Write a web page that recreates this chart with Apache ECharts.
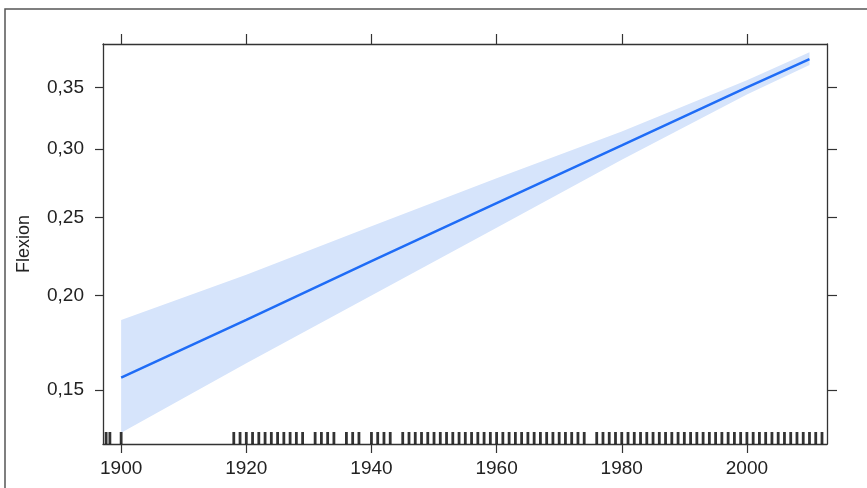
<!DOCTYPE html>
<html><head><meta charset="utf-8">
<script src="https://cdn.jsdelivr.net/npm/echarts@6/dist/echarts.min.js"></script>
<style>html,body{margin:0;padding:0;background:#fff}#c{width:867px;height:488px}</style>
</head><body><div id="c"></div>
<script>
// Effect of year on Flexion (probabilities, plotted on a logit scale)
const years  = [1900, 1920, 1940, 1960, 1980, 2000, 2010];
const fitP   = [0.156, 0.186, 0.221, 0.260, 0.303, 0.350, 0.374];
const lowerP = [0.131, 0.163, 0.200, 0.243, 0.292, 0.344, 0.369];
const upperP = [0.186, 0.2125, 0.244, 0.278, 0.314, 0.356, 0.380];
const rugYears = [1897.6, 1898.2, 1900,
  1918,1919,1920,1921,1922,1923,1924,1925,1926,1927,1928,1929,
  1931,1932,1933,1934,1936,1937,1938,1940,1941,1942,1943,
  1945,1946,1947,1948,1949,1950,1951,1952,1953,1954,1955,1956,1957,1958,1959,
  1960,1961,1962,1963,1964,1965,1966,1967,1968,1969,1970,1971,1972,1973,1974,
  1976,1977,1978,1979,1980,1981,1982,1983,1984,1985,1986,1987,1988,1989,
  1990,1991,1992,1993,1994,1995,1996,1997,1998,1999,2000,2001,2002,2003,2004,
  2005,2006,2007,2008,2009,2010,2011,2012];
const xTicks = [1900, 1920, 1940, 1960, 1980, 2000];
const yTicksP = [0.15, 0.20, 0.25, 0.30, 0.35];
const xRange = [1897.1, 2012.8];
const yRangeP = [0.1264, 0.3871];
const yTitle = 'Flexion';

const logit = p => Math.log(p / (1 - p));
const inv = v => 1 / (1 + Math.exp(-v));
const fmt = v => inv(v).toFixed(2).replace('.', ',');

const yMin = logit(yRangeP[0]), yMax = logit(yRangeP[1]);
const yTicks = yTicksP.map(logit);
const font = 'Liberation Sans, Arial, Helvetica, sans-serif';
const lineCol = '#333';

const chart = echarts.init(document.getElementById('c'), null, {renderer: 'canvas'});
chart.setOption({
  animation: false,
  backgroundColor: '#fff',
  grid: {left: 103, top: 44, right: 40, bottom: 44, containLabel: false},
  graphic: [{
    type: 'rect', shape: {x: 5, y: 9, width: 880, height: 500},
    style: {fill: 'none', stroke: '#555', lineWidth: 1.5}, z: 100
  }],
  xAxis: [{
    type: 'value', position: 'bottom', min: xRange[0], max: xRange[1],
    axisLine: {show: true, lineStyle: {color: lineCol, width: 1.3}},
    axisTick: {show: true, length: 9, customValues: xTicks, lineStyle: {color: lineCol, width: 1.2}},
    axisLabel: {show: true, customValues: xTicks, margin: 15, color: '#222', fontSize: 19, fontFamily: font,
      formatter: v => String(Math.round(v))},
    splitLine: {show: false}
  }, {
    type: 'value', position: 'top', min: xRange[0], max: xRange[1],
    axisLine: {show: true, lineStyle: {color: lineCol, width: 1.3}},
    axisTick: {show: true, length: 10, customValues: xTicks, lineStyle: {color: lineCol, width: 1.2}},
    axisLabel: {show: false}, splitLine: {show: false}
  }],
  yAxis: [{
    type: 'value', position: 'left', min: yMin, max: yMax,
    name: yTitle, nameLocation: 'middle', nameGap: 70, nameRotate: 90,
    nameTextStyle: {color: '#222', fontSize: 18, fontFamily: font},
    axisLine: {show: true, lineStyle: {color: lineCol, width: 1.3}},
    axisTick: {show: true, length: 8, customValues: yTicks, lineStyle: {color: lineCol, width: 1.2}},
    axisLabel: {show: true, customValues: yTicks, margin: 19, color: '#222', fontSize: 19, fontFamily: font,
      formatter: fmt},
    splitLine: {show: false}
  }, {
    type: 'value', position: 'right', min: yMin, max: yMax,
    axisLine: {show: true, lineStyle: {color: lineCol, width: 1.3}},
    axisTick: {show: true, length: 10, customValues: yTicks, lineStyle: {color: lineCol, width: 1.2}},
    axisLabel: {show: false}, splitLine: {show: false}
  }],
  series: [{
    type: 'custom', name: 'band', silent: true, z: 1,
    data: [[years[0], logit(lowerP[0])]],
    renderItem: function (params, api) {
      const pts = [];
      for (let i = 0; i < years.length; i++) pts.push(api.coord([years[i], logit(upperP[i])]));
      for (let i = years.length - 1; i >= 0; i--) pts.push(api.coord([years[i], logit(lowerP[i])]));
      return {type: 'polygon', shape: {points: pts}, style: {fill: '#d6e4fb', stroke: null}};
    }
  }, {
    type: 'line', name: 'fit',
    data: years.map((y, i) => [y, logit(fitP[i])]),
    symbol: 'none', lineStyle: {color: '#1f6cf6', width: 2.5}, z: 3
  }, {
    type: 'scatter', name: 'rug',
    data: rugYears.map(y => [y, yMin]),
    symbol: 'rect', symbolSize: [2.8, 12], symbolOffset: [0, -6],
    itemStyle: {color: '#000'}, z: 4, silent: true
  }]
});
</script></body></html>
